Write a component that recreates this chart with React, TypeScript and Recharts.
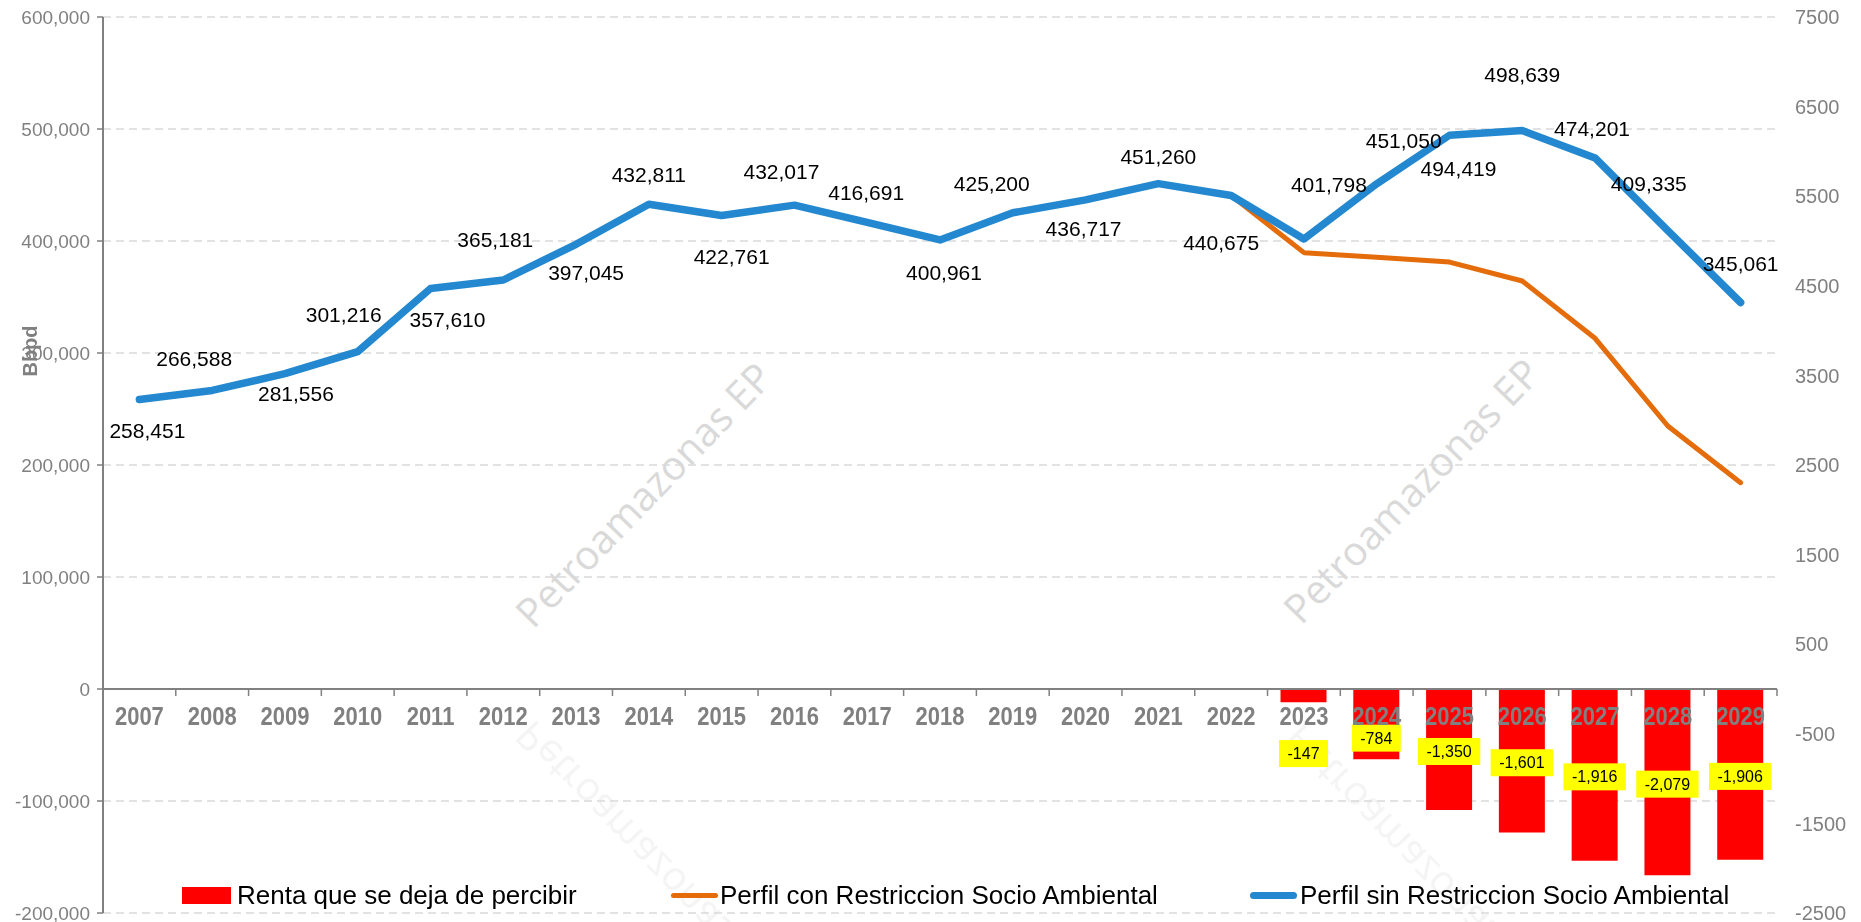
import React from 'react';
import {
  ComposedChart,
  Bar,
  Line,
  XAxis,
  YAxis,
  CartesianGrid,
  ReferenceLine,
  LabelList,
  Legend,
} from 'recharts';

// ---------------- data ----------------
const YEARS = [
  '2007', '2008', '2009', '2010', '2011', '2012', '2013', '2014', '2015', '2016', '2017', '2018',
  '2019', '2020', '2021', '2022', '2023', '2024', '2025', '2026', '2027', '2028', '2029',
];

const PERFIL_SIN = [
  258451, 266588, 281556, 301216, 357610, 365181, 397045, 432811, 422761, 432017, 416691, 400961,
  425200, 436717, 451260, 440675, 401798, 451050, 494419, 498639, 474201, 409335, 345061,
];

const PERFIL_CON: (number | null)[] = [
  null, null, null, null, null, null, null, null, null, null, null, null,
  null, null, null, 440675, 389600, 385400, 381200, 364300, 313100, 234800, 184200,
];

const RENTA: (number | null)[] = [
  null, null, null, null, null, null, null, null, null, null, null, null,
  null, null, null, null, -147, -784, -1350, -1601, -1916, -2079, -1906,
];

const LEFT_TICKS = [-200000, -100000, 0, 100000, 200000, 300000, 400000, 500000, 600000];
const RIGHT_TICKS = [-2500, -1500, -500, 500, 1500, 2500, 3500, 4500, 5500, 6500, 7500];

const SERIES_NAMES = [
  'Renta que se deja de percibir',
  'Perfil con Restriccion Socio Ambiental',
  'Perfil sin Restriccion Socio Ambiental',
];

// label nudges (placement of the value labels around the blue line)
const LABEL_DX = [8, -18, 11, -14, 17, -8, 10, 0, 10, -13, -1, 4, -21, -2, 0, -10, 25, 27, 9, 0, -3, -19, 0];
const LABEL_DY = [31, -32, 20, -37, 31, -40, 28, -30, 41, -34, -30, 33, -29, 29, -27, 47, -54, -43, 33, -56, -29, -47, -39];
const BAR_LABEL_DY = [0, 0, 0, 0, 0, 0, 0, 0, 0, 0, 0, 0, 0, 0, 0, 0, 58, 14, 2, 2, 2, 2, 2];

// ---------------- layout ----------------
const CHART_W = 1861;
const CHART_H = 922;
const LEFT_W = 103;
const RIGHT_W = 84;
const TOP = 17;
const BOTTOM = 9;
const N = YEARS.length;
const BAND = (CHART_W - LEFT_W - RIGHT_W) / N;
const FONT = "'Liberation Sans', Arial, sans-serif";

const BLUE = '#2388CF';
const ORANGE = '#E46C0A';
const RED = '#FF0000';
const GRAY = '#808080';

const data = YEARS.map((year, i) => ({
  year,
  idx: i,
  sin: PERFIL_SIN[i],
  con: PERFIL_CON[i],
  renta: RENTA[i],
  axis: 0,
}));

const fmt = (v: number) => v.toLocaleString('en-US');

const textW = (s: string, size: number) => {
  let w = 0;
  for (const ch of s) {
    if (ch === ',') w += 0.278;
    else if (ch === '-') w += 0.333;
    else w += 0.556;
  }
  return w * size;
};

const SinLabel = (p: any) => {
  const i = Number(p.value);
  const x = Number(p.x) + LABEL_DX[i];
  const y = Number(p.y) + LABEL_DY[i];
  return (
    <text
      x={x}
      y={y}
      textAnchor="middle"
      dominantBaseline="central"
      fontFamily={FONT}
      fontSize={21}
      fill="#000"
    >
      {fmt(PERFIL_SIN[i])}
    </text>
  );
};

const BarLabel = (p: any) => {
  const i = Number(p.value);
  const v = RENTA[i];
  if (v == null) return null;
  const x = Number(p.x) + Number(p.width) / 2;
  const cy = Number(p.y) + Number(p.height) / 2 + BAR_LABEL_DY[i];
  const s = fmt(v);
  const w = textW(s, 16) + 17;
  const h = 27;
  return (
    <g>
      <rect x={x - w / 2} y={cy - h / 2} width={w} height={h} fill="#FFFF00" />
      <text
        x={x}
        y={cy}
        textAnchor="middle"
        dominantBaseline="central"
        fontFamily={FONT}
        fontSize={16}
        fill="#000"
      >
        {s}
      </text>
    </g>
  );
};

const AxisLabel = (p: any) => {
  const i = Number(p.value);
  const x = Number(p.x);
  const y = Number(p.y);
  const left = x - BAND / 2;
  const right = x + BAND / 2;
  const ty = y + 27;
  return (
    <g>
      <line x1={left} x2={left} y1={y} y2={y + 7} stroke={GRAY} strokeWidth={1.5} />
      {i === N - 1 && <line x1={right} x2={right} y1={y} y2={y + 7} stroke={GRAY} strokeWidth={1.5} />}
      <text
        x={x}
        y={ty}
        textAnchor="middle"
        dominantBaseline="central"
        transform={`translate(${x} ${ty}) scale(1 1.2) translate(${-x} ${-ty})`}
        fontFamily={FONT}
        fontWeight="bold"
        fontSize={22}
        fill={GRAY}
      >
        {YEARS[i]}
      </text>
    </g>
  );
};

const LegendContent = () => {
  const textStyle: React.CSSProperties = {
    position: 'absolute',
    top: 880,
    fontSize: 26,
    lineHeight: '30px',
    fontFamily: FONT,
    color: '#000',
    whiteSpace: 'nowrap',
  };
  return (
    <div style={{ position: 'relative', width: CHART_W, height: CHART_H }}>
      <div style={{ position: 'absolute', left: 182, top: 887, width: 49, height: 17, background: RED }} />
      <span style={{ ...textStyle, left: 237 }}>{SERIES_NAMES[0]}</span>
      <div style={{ position: 'absolute', left: 671, top: 893, width: 47, height: 5, borderRadius: 3, background: ORANGE }} />
      <span style={{ ...textStyle, left: 720 }}>{SERIES_NAMES[1]}</span>
      <div style={{ position: 'absolute', left: 1250, top: 892, width: 47, height: 7, borderRadius: 4, background: BLUE }} />
      <span style={{ ...textStyle, left: 1300 }}>{SERIES_NAMES[2]}</span>
    </div>
  );
};

const Watermark = ({ cx, cy }: { cx: number; cy: number }) => (
  <text
    x={0}
    y={0}
    transform={`translate(${cx} ${cy}) rotate(-46)`}
    textAnchor="middle"
    dominantBaseline="central"
    fontFamily="'Open Sans', sans-serif"
    fontSize={40}
    fill="#d9d9d9"
  >
    Petroamazonas EP
  </text>
);

export default function App() {
  const mirrorY = 674;
  return (
    <div style={{ position: 'absolute', left: 0, top: 0, width: CHART_W, height: CHART_H, background: '#fff', fontFamily: FONT }}>
      <svg width={CHART_W} height={CHART_H} style={{ position: 'absolute', left: 0, top: 0 }}>
        <Watermark cx={643} cy={494} />
        <Watermark cx={1411} cy={490} />
        <g transform={`translate(0 ${2 * mirrorY}) scale(1 -1)`} opacity={0.3}>
          <Watermark cx={643} cy={494} />
          <Watermark cx={1411} cy={490} />
        </g>
      </svg>
      <div style={{ position: 'absolute', left: 0, top: 0 }}>
        <ComposedChart
          width={CHART_W}
          height={CHART_H}
          data={data}
          margin={{ top: TOP, right: 0, bottom: BOTTOM, left: 0 }}
        >
          <CartesianGrid
            yAxisId="left"
            vertical={false}
            stroke="#d9d9d9"
            strokeWidth={1.5}
            strokeDasharray="8 5"
          />
          <XAxis dataKey="year" hide />
          <YAxis
            yAxisId="left"
            domain={[-200000, 600000]}
            ticks={LEFT_TICKS}
            interval={0}
            allowDataOverflow
            width={LEFT_W}
            tickFormatter={fmt}
            axisLine={{ stroke: GRAY, strokeWidth: 2 }}
            tickLine={{ stroke: GRAY, strokeWidth: 1.5 }}
            tickSize={6}
            tickMargin={7}
            tick={{ fill: GRAY, fontSize: 19, fontFamily: FONT }}
          />
          <YAxis
            yAxisId="right"
            orientation="right"
            domain={[-2500, 7500]}
            ticks={RIGHT_TICKS}
            interval={0}
            allowDataOverflow
            width={RIGHT_W}
            axisLine={false}
            tickLine={false}
            tickSize={0}
            tickMargin={18}
            tick={{ fill: GRAY, fontSize: 20, fontFamily: FONT, textAnchor: 'start' }}
          />
          <Bar
            yAxisId="right"
            dataKey="renta"
            name={SERIES_NAMES[0]}
            fill={RED}
            barSize={46}
            isAnimationActive={false}
          >
            <LabelList dataKey="idx" content={BarLabel} />
          </Bar>
          <ReferenceLine yAxisId="left" y={0} stroke={GRAY} strokeWidth={2} />
          <Line
            yAxisId="left"
            dataKey="con"
            name={SERIES_NAMES[1]}
            stroke={ORANGE}
            strokeWidth={5}
            dot={false}
            activeDot={false}
            strokeLinejoin="round"
            strokeLinecap="round"
            isAnimationActive={false}
          />
          <Line
            yAxisId="left"
            dataKey="sin"
            name={SERIES_NAMES[2]}
            stroke={BLUE}
            strokeWidth={7.5}
            dot={false}
            activeDot={false}
            strokeLinejoin="round"
            strokeLinecap="round"
            isAnimationActive={false}
          >
            <LabelList dataKey="idx" content={SinLabel} />
          </Line>
          <Line
            yAxisId="left"
            dataKey="axis"
            stroke="none"
            dot={false}
            activeDot={false}
            legendType="none"
            isAnimationActive={false}
          >
            <LabelList dataKey="idx" content={AxisLabel} />
          </Line>
          <Legend
            layout="horizontal"
            verticalAlign="middle"
            align="center"
            content={LegendContent}
            wrapperStyle={{ position: 'absolute', left: 0, top: 0, width: CHART_W, height: 0, pointerEvents: 'none' }}
          />
        </ComposedChart>
      </div>
      <svg width={CHART_W} height={CHART_H} style={{ position: 'absolute', left: 0, top: 0, pointerEvents: 'none' }}>
        <text
          x={0}
          y={0}
          transform="translate(30 351) rotate(-90)"
          textAnchor="middle"
          dominantBaseline="central"
          fontFamily={FONT}
          fontWeight="bold"
          fontSize={20}
          fill={GRAY}
        >
          Bbpd
        </text>
      </svg>
    </div>
  );
}
